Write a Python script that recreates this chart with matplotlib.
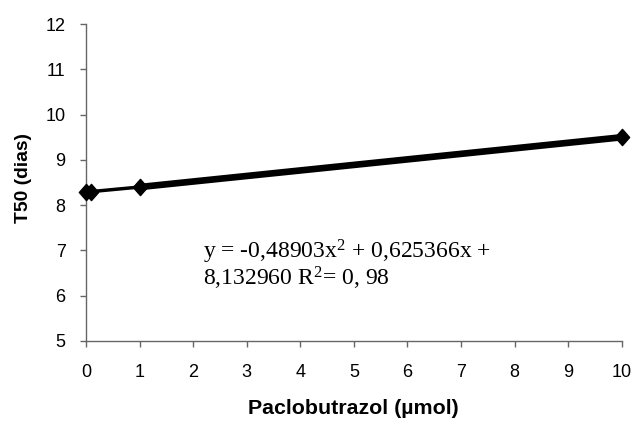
import matplotlib
matplotlib.use("Agg")
import matplotlib.pyplot as plt
from matplotlib.path import Path

plt.rcParams["mathtext.default"] = "regular"

# Paclobutrazol dose (µmol) and germination time T50 (days)
dose = [0, 0.1, 1, 10]
t50 = [8.3, 8.3, 8.4, 9.5]

x_ticks = list(range(0, 11))
y_ticks = list(range(5, 13))

equation = "y = -0,48903x$^{2}$ + 0,625366x +\n8,132960 R$^{2}$= 0, 98"

# slightly tall diamond marker
diamond = Path([(0, 1), (0.88, 0), (0, -1), (-0.88, 0), (0, 1)],
               [Path.MOVETO, Path.LINETO, Path.LINETO, Path.LINETO,
                Path.CLOSEPOLY])

fig = plt.figure(figsize=(6.37, 4.23), dpi=100)
ax = fig.add_axes([0.135, 0.194, 0.841, 0.749])

# thin segment through the low doses, heavier segment up to the top dose
ax.plot(dose, t50, color="black", lw=2.5, marker=diamond, markersize=11.7,
        zorder=3, clip_on=False)
ax.plot(dose[2:], t50[2:], color="black", lw=4.8, solid_capstyle="butt",
        zorder=2)

ax.set_xlim(0, 10)
ax.set_ylim(5, 12)
ax.set_xticks(x_ticks)
ax.set_yticks(y_ticks)

for side in ("top", "right"):
    ax.spines[side].set_visible(False)
for side in ("left", "bottom"):
    ax.spines[side].set_color("#666666")
    ax.spines[side].set_linewidth(1.0)

ax.tick_params(axis="both", direction="out", length=4.2, width=1,
               color="#666666", labelsize=13)
ax.tick_params(axis="x", pad=12.4)
ax.tick_params(axis="y", pad=10.5)
for lab in ax.get_xticklabels() + ax.get_yticklabels():
    lab.set_family("Liberation Sans")

ax.set_xlabel("Paclobutrazol (µmol)", fontsize=15.4, fontweight="bold",
              family="Liberation Sans")
ax.set_ylabel("T50 (dias)", fontsize=13.9, fontweight="bold",
              family="Liberation Sans")
ax.xaxis.set_label_coords(0.5, -0.183)
ax.yaxis.set_label_coords(-0.1, 0.514)

ax.text(2.18, 6.22, equation, fontsize=17, family="Liberation Serif",
        va="baseline", ha="left", linespacing=0.97)

fig.savefig("out.png", dpi=100)
